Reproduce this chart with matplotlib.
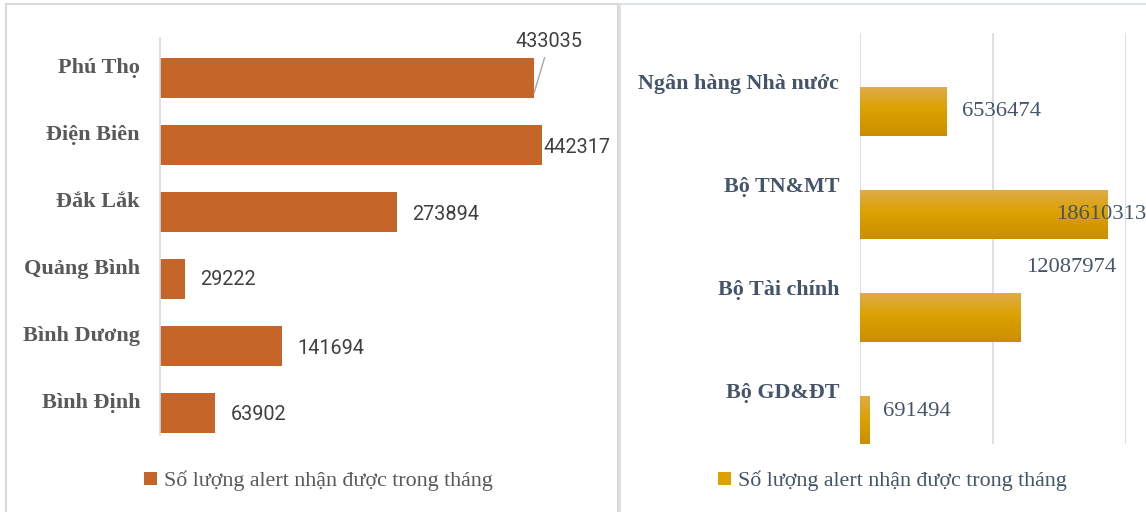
import numpy as np
import matplotlib
matplotlib.use('Agg')
import matplotlib.pyplot as plt
from matplotlib.patches import Patch, Rectangle
from matplotlib.colors import LinearSegmentedColormap

provinces = ['Phú Thọ', 'Điện Biên', 'Đắk Lắk', 'Quảng Bình', 'Bình Dương', 'Bình Định']
province_alerts = [433035, 442317, 273894, 29222, 141694, 63902]

agencies = ['Ngân hàng Nhà nước', 'Bộ TN&MT', 'Bộ Tài chính', 'Bộ GD&ĐT']
agency_alerts = [6536474, 18610313, 12087974, 691494]

legend_label = 'Số lượng alert nhận được trong tháng'

SERIF = ['Liberation Serif', 'DejaVu Serif']
SANS = ['Roboto', 'DejaVu Sans']

# label offsets in points
left_offsets = [(11, 37), (1, -1.5), (11, -2), (11, -0.5), (11, -1.5), (11, -1)]
right_offsets = [(11, 0), (-37, 0), (4, 36), (10, 6.5)]


def draw_frames(fig):
    W, H = 1146, 512
    fig.patches.append(Rectangle((6 / W, -0.1), (618 - 6) / W, 1.1 - 4 / H,
                                 transform=fig.transFigure, fill=False,
                                 edgecolor='#D9D9D9', lw=1.5))
    fig.patches.append(Rectangle((619.5 / W, -0.1), 0.5, 1.1 - 4 / H,
                                 transform=fig.transFigure, fill=False,
                                 edgecolor='#DDE3EC', lw=1.5))


def plot_provinces(fig):
    ax = fig.add_axes([160 / 1146, 1 - 435 / 512, 432 / 1146, 397 / 512])
    n = len(provinces)
    ypos = np.arange(n)[::-1]
    ax.barh(ypos, province_alerts, height=0.6, color='#C5652A', zorder=2)
    ax.set_xlim(0, 500000)
    ax.set_ylim(-0.328, 5.597)
    for s in ['top', 'right', 'bottom']:
        ax.spines[s].set_visible(False)
    ax.spines['left'].set_color('#D9D9D9')
    ax.spines['left'].set_linewidth(1.2)
    ax.set_xticks([])
    ax.set_yticks([])

    for y, name in zip(ypos, provinces):
        ax.annotate(name, xy=(0, y), xytext=(-14.4, 7.2), textcoords='offset points',
                    ha='right', va='center', fontsize=16, fontweight='bold',
                    family=SERIF, color='#595959')

    for i, (y, v) in enumerate(zip(ypos, province_alerts)):
        dx, dy = left_offsets[i]
        if i == 0:
            ax.annotate(str(v), xy=(v, y - 0.22), xytext=(dx, dy), textcoords='offset points',
                        ha='center', va='center', fontsize=14.3, family=SANS, color='#404040',
                        arrowprops=dict(arrowstyle='-', color='#A6A6A6', lw=1,
                                        shrinkA=3, shrinkB=0))
        else:
            ax.annotate(str(v), xy=(v, y), xytext=(dx, dy), textcoords='offset points',
                        ha='left', va='center', fontsize=14.3, family=SANS, color='#404040')

    handle = Patch(facecolor='#C5652A')
    fig.legend(handles=[handle], labels=[legend_label], loc='center',
               bbox_to_anchor=(318 / 1146, 1 - 481 / 512), frameon=False,
               handlelength=0.6, handleheight=0.6, handletextpad=0.3,
               prop={'family': SERIF, 'size': 15.8}, labelcolor='#595959')


def plot_agencies(fig):
    ax = fig.add_axes([860 / 1146, 1 - 444 / 512, 266 / 1146, 411 / 512])
    n = len(agencies)
    ypos = np.arange(n)[::-1]
    h = 0.475
    cmap = LinearSegmentedColormap.from_list('gold', [(0, '#E0AB48'), (0.45, '#DBA200'),
                                                      (1, '#CC8E00')])
    grad = np.linspace(0, 1, 64).reshape(-1, 1)
    bars = ax.barh(ypos, agency_alerts, height=h, color='none', zorder=2)
    for b in bars:
        x0, y0 = b.get_x(), b.get_y()
        ax.imshow(grad, extent=[x0, x0 + b.get_width(), y0, y0 + b.get_height()],
                  cmap=cmap, aspect='auto', origin='upper', zorder=2)
    ax.set_xlim(0, 20000000)
    ax.set_ylim(-0.228, 3.762)
    ax.set_xticks([0, 10000000, 20000000])
    ax.grid(axis='x', color='#D9DDE5', lw=1.3, zorder=0)
    ax.tick_params(length=0, labelbottom=False)
    for s in ax.spines.values():
        s.set_visible(False)
    ax.set_yticks([])

    for y, name in zip(ypos, agencies):
        ax.annotate(name, xy=(0, y), xytext=(-15, 19.5), textcoords='offset points',
                    ha='right', va='center', fontsize=15.8, fontweight='bold',
                    family=SERIF, color='#44546A', annotation_clip=False)

    for i, (y, v) in enumerate(zip(ypos, agency_alerts)):
        dx, dy = right_offsets[i]
        ax.annotate(str(v), xy=(v, y), xytext=(dx, dy), textcoords='offset points',
                    ha='left', va='center', fontsize=16.2, family=SERIF,
                    color='#44546A', zorder=5, annotation_clip=False)

    handle = Patch(facecolor='#DBA200')
    fig.legend(handles=[handle], labels=[legend_label], loc='center',
               bbox_to_anchor=(892 / 1146, 1 - 481 / 512), frameon=False,
               handlelength=0.6, handleheight=0.6, handletextpad=0.3,
               prop={'family': SERIF, 'size': 15.8}, labelcolor='#44546A')


def main():
    fig = plt.figure(figsize=(11.46, 5.12), dpi=100)
    draw_frames(fig)
    plot_provinces(fig)
    plot_agencies(fig)
    fig.savefig('out.png', dpi=100)


main()
